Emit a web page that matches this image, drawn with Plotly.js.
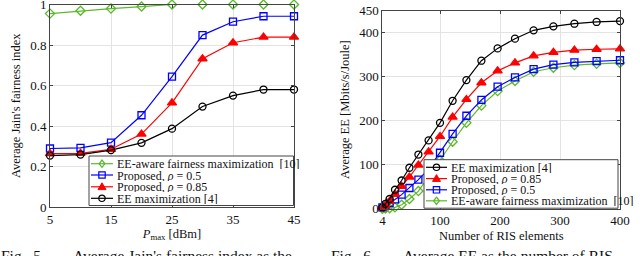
<!DOCTYPE html>
<html>
<head>
<meta charset="utf-8">
<script src="https://cdn.plot.ly/plotly-3.0.1.min.js"></script>
<style>html,body{margin:0;padding:0;background:#fff;}#chart{width:640px;height:256px;}</style>
</head>
<body>
<div id="chart"></div>
<script>
// ---- Fig. 5 data: Average Jain's fairness index vs Pmax ----
const pmax = [5, 10, 15, 20, 25, 30, 35, 40, 45];
const fairEEaware = [0.955, 0.969, 0.980, 0.990, 1.0, 1.0, 1.0, 1.0, 1.0];
const fairProp05 = [0.289, 0.292, 0.318, 0.453, 0.644, 0.849, 0.915, 0.942, 0.942];
const fairProp085 = [0.264, 0.265, 0.285, 0.360, 0.514, 0.732, 0.811, 0.839, 0.839];
const fairEEmax = [0.254, 0.259, 0.281, 0.317, 0.387, 0.496, 0.550, 0.580, 0.580];
const fairTicks = [0, 0.2, 0.4, 0.6, 0.8, 1];
const pmaxTicks = [5, 15, 25, 35, 45];

// ---- Fig. 6 data: Average EE vs number of RIS elements ----
const risElements = [4, 9, 16, 25, 36, 49, 64, 81, 100, 121, 144, 169, 196, 225, 256, 289, 324, 361, 400];
const eeEEmax = [3, 11, 22, 43, 64, 93, 123, 155, 195, 245, 292, 336, 364, 386, 405, 414, 420, 424, 426];
const eeProp085 = [2, 7, 17, 33, 51, 72, 99, 129, 164, 208, 248, 286, 313, 331, 347, 355, 360, 362, 363];
const eeProp05 = [3, 7, 13, 21, 32, 47, 66, 90, 127, 170, 211, 247, 277, 298, 317, 327, 332, 335, 337];
const eeEEaware = [0, 0.5, 1, 3, 9, 22, 40, 72, 110, 152, 195, 234, 267, 290, 311, 320, 326, 329, 331];
const risTicks = [4, 100, 200, 300, 400];
const eeTicks = [0, 100, 200, 300, 400, 450];

// ---- names ----
const nameEEaware = 'EE-aware fairness maximization  [10]';
const nameProp05 = 'Proposed, <i>ρ</i> = 0.5';
const nameProp085 = 'Proposed, <i>ρ</i> = 0.85';
const nameEEmax = 'EE maximization [4]';

const GREEN = '#5cb82c', BLUE = '#0000ff', RED = '#ff0000', BLACK = '#000000';
const FONT = 'Liberation Serif, DejaVu Serif, serif';
const TICKFONT = {family: FONT, size: 13, color: '#111'};

function tr(x, y, color, symbol, size, xa, ya, name) {
  return {
    x: x, y: y, xaxis: xa, yaxis: ya, name: name, type: 'scatter', mode: 'lines+markers',
    cliponaxis: false, showlegend: false,
    line: {color: color, width: 1.2},
    marker: {symbol: symbol, size: size, color: color, line: {color: color, width: 1.3}}
  };
}

const data = [
  tr(pmax, fairEEaware, GREEN, 'diamond-open', 7, 'x', 'y', nameEEaware),
  tr(pmax, fairProp05, BLUE, 'square-open', 7, 'x', 'y', nameProp05),
  tr(pmax, fairProp085, RED, 'triangle-up', 8, 'x', 'y', nameProp085),
  tr(pmax, fairEEmax, BLACK, 'circle-open', 7, 'x', 'y', nameEEmax),
  tr(risElements, eeEEaware, GREEN, 'diamond-open', 7, 'x2', 'y2', nameEEaware),
  tr(risElements, eeProp05, BLUE, 'square-open', 7, 'x2', 'y2', nameProp05),
  tr(risElements, eeProp085, RED, 'triangle-up', 8, 'x2', 'y2', nameProp085),
  tr(risElements, eeEEmax, BLACK, 'circle-open', 7, 'x2', 'y2', nameEEmax)
];

const W = 640, H = 256;
const PX = p => p / W, PY = p => 1 - p / H;

const axisBase = {
  showline: true, linecolor: '#444', linewidth: 1, mirror: 'ticks',
  ticks: 'inside', ticklen: 3, tickcolor: '#444', ticklabeloverflow: 'allow',
  showgrid: true, gridcolor: '#e3e3e3', gridwidth: 1, zeroline: false,
  tickfont: TICKFONT, fixedrange: true
};

// ---- custom compact legends (decoration) ----
const shapes = [];
const annotations = [];
function legendBox(x0, x1, y0, y1) {
  shapes.push({type: 'rect', xref: 'paper', yref: 'paper', x0: PX(x0), x1: PX(x1), y0: PY(y1), y1: PY(y0),
    fillcolor: '#fff', line: {color: '#444', width: 1}, layer: 'above'});
}
function legendEntry(lx0, lx1, cy, color, sym, text) {
  shapes.push({type: 'line', xref: 'paper', yref: 'paper', x0: PX(lx0), x1: PX(lx1), y0: PY(cy), y1: PY(cy),
    line: {color: color, width: 1.2}, layer: 'above'});
  const cx = (lx0 + lx1) / 2, r = 3.2;
  if (sym === 'circle') {
    shapes.push({type: 'circle', xref: 'paper', yref: 'paper', x0: PX(cx - r), x1: PX(cx + r), y0: PY(cy + r), y1: PY(cy - r),
      line: {color: color, width: 1.2}, fillcolor: 'rgba(0,0,0,0)', layer: 'above'});
  } else if (sym === 'square') {
    shapes.push({type: 'rect', xref: 'paper', yref: 'paper', x0: PX(cx - r), x1: PX(cx + r), y0: PY(cy + r), y1: PY(cy - r),
      line: {color: color, width: 1.2}, fillcolor: 'rgba(0,0,0,0)', layer: 'above'});
  } else if (sym === 'triangle') {
    const t = 4;
    shapes.push({type: 'path', xref: 'paper', yref: 'paper',
      path: `M${PX(cx - t)},${PY(cy + t * 0.7)} L${PX(cx + t)},${PY(cy + t * 0.7)} L${PX(cx)},${PY(cy - t)} Z`,
      line: {color: color, width: 1}, fillcolor: color, layer: 'above'});
  } else if (sym === 'diamond') {
    const d = 3.6;
    shapes.push({type: 'path', xref: 'paper', yref: 'paper',
      path: `M${PX(cx)},${PY(cy - d)} L${PX(cx + d * 0.8)},${PY(cy)} L${PX(cx)},${PY(cy + d)} L${PX(cx - d * 0.8)},${PY(cy)} Z`,
      line: {color: color, width: 1.3}, fillcolor: 'rgba(0,0,0,0)', layer: 'above'});
  }
  annotations.push({xref: 'paper', yref: 'paper', x: PX(lx1 + 2.5), y: PY(cy), xanchor: 'left', yanchor: 'middle',
    text: text, showarrow: false, font: {family: FONT, size: 12, color: '#111'}, borderpad: 0, height: 11});
}
// left legend
legendBox(89, 293.5, 156, 205.5);
legendEntry(91, 113, 163.7, GREEN, 'diamond', nameEEaware);
legendEntry(91, 113, 175.0, BLUE, 'square', nameProp05);
legendEntry(91, 113, 186.8, RED, 'triangle', nameProp085);
legendEntry(91, 113, 198.3, BLACK, 'circle', nameEEmax);
// right legend
legendBox(424, 618, 159.7, 208.2);
legendEntry(426, 447, 167.3, BLACK, 'circle', nameEEmax);
legendEntry(426, 447, 178.6, RED, 'triangle', nameProp085);
legendEntry(426, 447, 189.8, BLUE, 'square', nameProp05);
legendEntry(426, 447, 200.8, GREEN, 'diamond', nameEEaware);

// captions (cut off at the bottom, as in the reference)
const capFont = {family: FONT, size: 15.5, color: '#111'};
[['Fig.  5.', 0], ["Average Jain's fairness index as the", 72], ['Fig.  6.', 330], ['Average EE as the number of RIS', 402]]
  .forEach(([t, x]) => annotations.push({xref: 'paper', yref: 'paper', x: PX(x), y: PY(246), xanchor: 'left', yanchor: 'top',
    text: t, showarrow: false, font: capFont, borderpad: 0}));

const layout = {
  width: W, height: H, margin: {l: 0, r: 0, t: 0, b: 0}, paper_bgcolor: '#fff', plot_bgcolor: '#fff',
  showlegend: false, font: {family: FONT, color: '#111'},
  xaxis: Object.assign({}, axisBase, {domain: [PX(50), PX(294)], anchor: 'y', range: [5, 45], tickvals: pmaxTicks,
    title: {text: '<i>P</i><sub>max</sub> [dBm]', font: {family: FONT, size: 12.5}, standoff: 3}}),
  yaxis: Object.assign({}, axisBase, {domain: [PY(207), PY(4.5)], anchor: 'x', range: [0, 1], tickvals: fairTicks.slice(1),
    title: {text: "Average Jain's fairness index", font: {family: FONT, size: 12.5}, standoff: 6}}),
  xaxis2: Object.assign({}, axisBase, {domain: [PX(382.4), PX(620)], anchor: 'y2', range: [4, 400], tickvals: risTicks,
    title: {text: 'Number of RIS elements', font: {family: FONT, size: 12.5}, standoff: 3}}),
  yaxis2: Object.assign({}, axisBase, {domain: [PY(208.7), PY(10.5)], anchor: 'x2', range: [0, 450], tickvals: eeTicks,
    title: {text: 'Average EE [Mbits/s/Joule]', font: {family: FONT, size: 12.5}, standoff: 6}}),
  shapes: shapes, annotations: annotations
};

Plotly.newPlot('chart', data, layout, {staticPlot: true, displayModeBar: false}).then(gd => {
  // draw the bottom "0" label of the left y axis on the topmost SVG layer, placed with the axis scale
  const fl = gd._fullLayout, ya = fl.yaxis, xa = fl.xaxis;
  const svgs = gd.querySelectorAll('svg.main-svg');
  const topSvg = svgs[svgs.length - 1];
  const box = gd.getBoundingClientRect();
  let right = xa._offset - 4;
  const ref = Array.from(gd.querySelectorAll('.ytick text')).find(t => t.textContent === '0.2');
  if (ref) { const r = ref.getBoundingClientRect(); if (r.width > 0 && r.right < xa._offset) right = r.right - box.left; }
  const t = document.createElementNS('http://www.w3.org/2000/svg', 'text');
  t.setAttribute('x', right);
  t.setAttribute('y', ya._offset + ya.l2p(fairTicks[0]));
  t.setAttribute('text-anchor', 'end');
  t.setAttribute('dominant-baseline', 'central');
  t.setAttribute('style', 'font-family: "Liberation Serif", "DejaVu Serif", serif; font-size: 13px; fill: #111;');
  t.textContent = String(fairTicks[0]);
  topSvg.appendChild(t);
});
</script>
</body>
</html>
